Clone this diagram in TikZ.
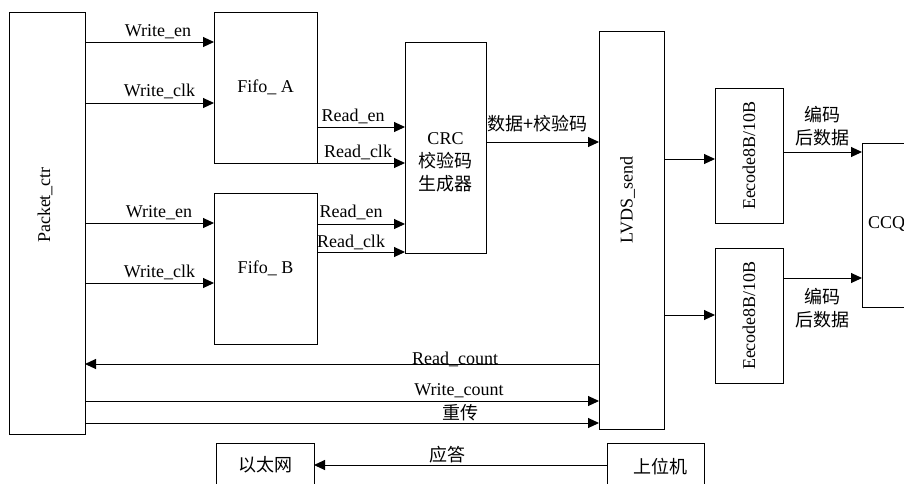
\documentclass[tikz,border=0pt]{standalone}
\usepackage{fontspec}
\setmainfont{Liberation Serif}
\newfontfamily\cjk{Noto Sans CJK SC}
\usetikzlibrary{arrows.meta}
\begin{document}
\begin{tikzpicture}[x=1pt,y=-1pt,
  box/.style={draw, line width=1pt, rectangle, inner sep=0pt, outer sep=0pt, anchor=north west},
  arr/.style={line width=1pt, -{Triangle[length=11pt,width=10pt]}},
  lbl/.style={inner sep=0pt, anchor=base},
  font=\fontsize{18}{23}\selectfont]
\useasboundingbox (0,0) rectangle (904,483);
\clip (0,0) rectangle (904,483);
% boxes
\node[box, minimum width=76pt, minimum height=422pt] (pc) at (9,12) {};
\node[box, minimum width=103pt, minimum height=151pt] (fa) at (214,12) {};
\node[box, minimum width=103pt, minimum height=151pt] (fb) at (214,193) {};
\node[box, minimum width=81pt, minimum height=211pt] (crc) at (405,42) {};
\node[box, minimum width=65pt, minimum height=398pt] (lvds) at (599,31) {};
\node[box, minimum width=68pt, minimum height=135pt] (e1) at (715,88) {};
\node[box, minimum width=68pt, minimum height=135pt] (e2) at (715,248) {};
\node[box, minimum width=70pt, minimum height=164pt] (ccq) at (862,143) {};
\node[box, minimum width=98pt, minimum height=60pt] (eth) at (216,443) {};
\node[box, minimum width=97pt, minimum height=60pt] (host) at (607,443) {};
% box texts
\node[rotate=90] (tpc) at (45,205) {Packet\_ctr};
\node (tfa) at (fa.center) {Fifo\_ A};
\node (tfb) at (fb.center) {Fifo\_ B};
\node[align=center] (tcrc) at (445.5,162) {CRC\\{\cjk 校验码}\\{\cjk 生成器}};
\node[rotate=90] (tlv) at (627.5,200) {LVDS\_send};
\node[rotate=90] (te1) at (e1.center) {Eecode8B/10B};
\node[rotate=90] (te2) at (e2.center) {Eecode8B/10B};
\node[anchor=west, inner sep=0pt] (tccq) at (868,224) {CCQ};
\node (teth) at (265,465) {\cjk 以太网};
\node (thost) at (660,467) {\cjk 上位机};
% connectors
\draw[arr] (pc.east |- 0,42) -- (fa.west |- 0,42);
\draw[arr] (pc.east |- 0,103) -- (fa.west |- 0,103);
\draw[arr] (pc.east |- 0,223) -- (fb.west |- 0,223);
\draw[arr] (pc.east |- 0,283) -- (fb.west |- 0,283);
\draw[arr] (fa.east |- 0,127) -- (crc.west |- 0,127);
\draw[arr] (fa.east |- 0,163) -- (crc.west |- 0,163);
\draw[arr] (fb.east |- 0,224) -- (crc.west |- 0,224);
\draw[arr] (fb.east |- 0,252) -- (crc.west |- 0,252);
\draw[arr] (crc.east |- 0,142) -- (lvds.west |- 0,142);
\draw[arr] (lvds.east |- 0,159) -- (e1.west |- 0,159);
\draw[arr] (lvds.east |- 0,315) -- (e2.west |- 0,315);
\draw[arr] (e1.east |- 0,152) -- (ccq.west |- 0,152);
\draw[arr] (e2.east |- 0,278) -- (ccq.west |- 0,278);
\draw[arr] (lvds.west |- 0,364) -- (pc.east |- 0,364);
\draw[arr] (pc.east |- 0,401) -- (lvds.west |- 0,401);
\draw[arr] (pc.east |- 0,423) -- (lvds.west |- 0,423);
\draw[arr] (host.west |- 0,465) -- (eth.east |- 0,465);
% labels
\node[lbl] (l1) at (158,36) {Write\_en};
\node[lbl] (l2) at (159.5,96) {Write\_clk};
\node[lbl] (l3) at (159,217) {Write\_en};
\node[lbl] (l4) at (159.5,277) {Write\_clk};
\node[lbl] (l5) at (353,121) {Read\_en};
\node[lbl] (l6) at (358,157) {Read\_clk};
\node[lbl] (l7) at (351,217) {Read\_en};
\node[lbl] (l8) at (351,247) {Read\_clk};
\node[lbl] (l9) at (537,130) {\cjk 数据+校验码};
\node[align=center, inner sep=0pt] (l10) at (822,126) {\cjk 编码\\\cjk 后数据};
\node[align=center, inner sep=0pt] (l11) at (822,308) {\cjk 编码\\\cjk 后数据};
\node[lbl] (l12) at (455,364) {Read\_count};
\node[lbl] (l13) at (459,395) {Write\_count};
\node[lbl] (l14) at (460,419) {\cjk 重传};
\node[lbl] (l15) at (447,461) {\cjk 应答};
\end{tikzpicture}
\end{document}
